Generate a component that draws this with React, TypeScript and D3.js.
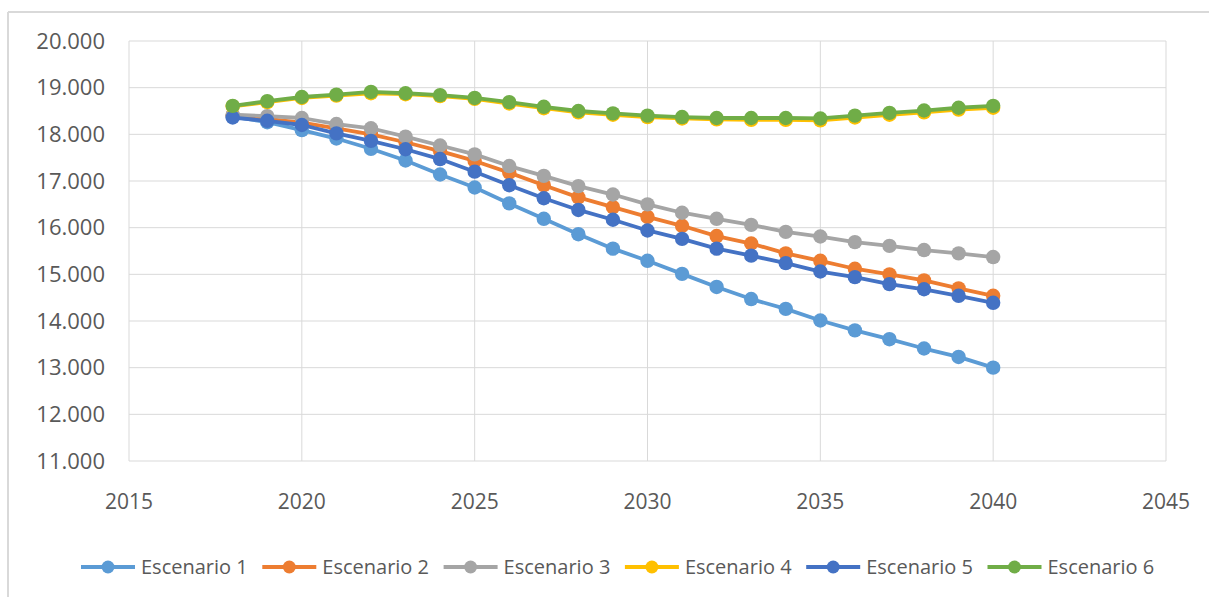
import { useMemo } from "react";
import * as d3 from "d3";

// chart size and plot margins
const WIDTH = 1209;
const HEIGHT = 597;
const MARGIN = { top: 41, right: 43, bottom: 136, left: 129 };

const years = d3.range(2018, 2041);

const escenario1 = [18380, 18260, 18090, 17910, 17690, 17440, 17140, 16860, 16520, 16190, 15860, 15550, 15290, 15010, 14730, 14470, 14260, 14010, 13800, 13610, 13410, 13230, 13000];
const escenario2 = [18410, 18330, 18250, 18130, 18000, 17830, 17640, 17430, 17180, 16910, 16650, 16440, 16230, 16040, 15820, 15660, 15450, 15290, 15120, 15000, 14870, 14700, 14540];
const escenario3 = [18420, 18390, 18350, 18220, 18130, 17950, 17760, 17570, 17320, 17110, 16890, 16710, 16500, 16320, 16190, 16060, 15910, 15810, 15690, 15610, 15520, 15450, 15370];
const escenario4 = [18600, 18690, 18780, 18830, 18880, 18860, 18820, 18760, 18660, 18560, 18470, 18420, 18370, 18340, 18320, 18310, 18310, 18300, 18360, 18420, 18470, 18530, 18570];
const escenario5 = [18360, 18290, 18200, 18020, 17860, 17680, 17470, 17200, 16910, 16630, 16380, 16170, 15940, 15760, 15550, 15400, 15240, 15060, 14940, 14790, 14680, 14540, 14390];
const escenario6 = [18610, 18710, 18800, 18850, 18910, 18880, 18840, 18780, 18690, 18590, 18500, 18450, 18400, 18370, 18350, 18350, 18350, 18340, 18400, 18460, 18510, 18570, 18610];

const seriesNames = ["Escenario 1", "Escenario 2", "Escenario 3", "Escenario 4", "Escenario 5", "Escenario 6"];
const seriesValues = [escenario1, escenario2, escenario3, escenario4, escenario5, escenario6];
const colors = ["#5B9BD5", "#ED7D31", "#A5A5A5", "#FFC000", "#4472C4", "#70AD47"];

const xTicks = [2015, 2020, 2025, 2030, 2035, 2040, 2045];
const yTicks = d3.range(11000, 20001, 1000);

const esLocale = d3.formatLocale({ decimal: ",", thousands: ".", grouping: [3], currency: ["", ""] });
const fmt = esLocale.format(",d");

const FONT = "'Open Sans', sans-serif";
const TEXT_COLOR = "#595959";
const GRID = "#D9D9D9";

export default function App() {
  const boundsWidth = WIDTH - MARGIN.left - MARGIN.right;
  const boundsHeight = HEIGHT - MARGIN.top - MARGIN.bottom;

  const xScale = useMemo(() => d3.scaleLinear().domain([2015, 2045]).range([0, boundsWidth]), [boundsWidth]);
  const yScale = useMemo(() => d3.scaleLinear().domain([11000, 20000]).range([boundsHeight, 0]), [boundsHeight]);

  const line = d3
    .line<number>()
    .x((_, i) => xScale(years[i]))
    .y((d) => yScale(d));

  // legend layout
  const legendStart = 81;
  const legendStep = 181.3;
  const legendY = 567;

  return (
    <svg width={WIDTH} height={HEIGHT} style={{ position: "absolute", left: 0, top: 0, background: "#fff" }}>
      {/* chart frame (only top and left edges are visible in the crop) */}
      <line x1={8} x2={WIDTH} y1={12} y2={12} stroke={GRID} strokeWidth={2} />
      <line x1={8} x2={8} y1={12} y2={HEIGHT} stroke={GRID} strokeWidth={2} />

      <g transform={`translate(${MARGIN.left},${MARGIN.top})`}>
        {/* gridlines */}
        {yTicks.map((t) => (
          <line key={"y" + t} x1={0} x2={boundsWidth} y1={yScale(t)} y2={yScale(t)} stroke={GRID} strokeWidth={1} />
        ))}
        {xTicks.map((t) => (
          <line key={"x" + t} x1={xScale(t)} x2={xScale(t)} y1={0} y2={boundsHeight} stroke={GRID} strokeWidth={1} />
        ))}

        {/* axis labels */}
        {yTicks.map((t) => (
          <text
            key={"yl" + t}
            x={-24}
            y={yScale(t) + 7.5}
            textAnchor="end"
            fontFamily={FONT}
            fontSize={22}
            fill={TEXT_COLOR}
          >
            {fmt(t)}
          </text>
        ))}
        {xTicks.map((t) => (
          <text
            key={"xl" + t}
            x={xScale(t)}
            y={boundsHeight + 48}
            textAnchor="middle"
            fontFamily={FONT}
            fontSize={21}
            fill={TEXT_COLOR}
          >
            {t}
          </text>
        ))}

        {/* series */}
        {seriesValues.map((vals, s) => (
          <g key={seriesNames[s]}>
            <path d={line(vals) ?? ""} fill="none" stroke={colors[s]} strokeWidth={3.8} strokeLinejoin="round" />
            {vals.map((v, i) => (
              <circle key={i} cx={xScale(years[i])} cy={yScale(v)} r={7.2} fill={colors[s]} />
            ))}
          </g>
        ))}
      </g>

      {/* legend */}
      {seriesNames.map((name, s) => {
        const x0 = legendStart + s * legendStep;
        return (
          <g key={"lg" + name}>
            <line x1={x0} x2={x0 + 54} y1={legendY} y2={legendY} stroke={colors[s]} strokeWidth={3.8} />
            <circle cx={x0 + 27} cy={legendY} r={6.5} fill={colors[s]} />
            <text x={x0 + 60} y={legendY + 7} fontFamily={FONT} fontSize={20} fill={TEXT_COLOR}>
              {name}
            </text>
          </g>
        );
      })}
    </svg>
  );
}
